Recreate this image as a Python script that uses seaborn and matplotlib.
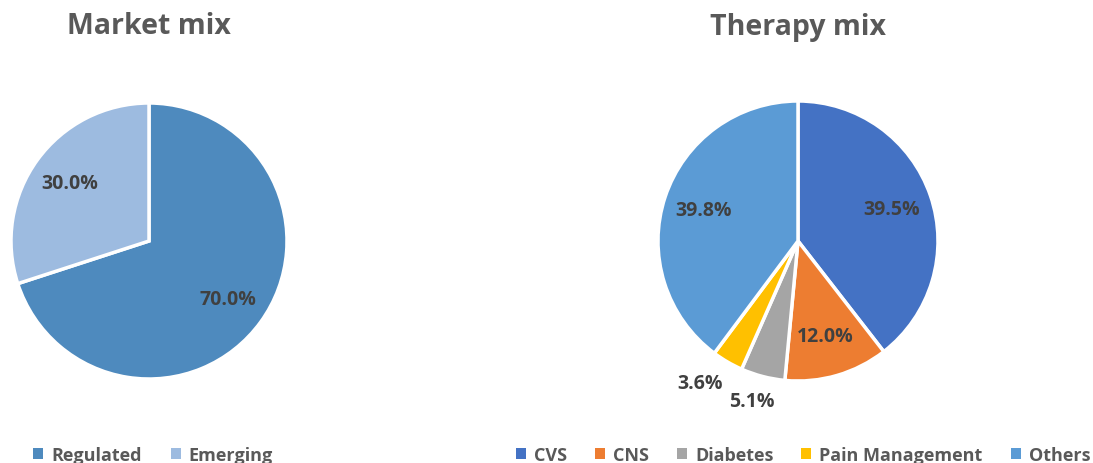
import matplotlib
matplotlib.use("Agg")
import matplotlib.pyplot as plt
import seaborn as sns
from matplotlib.patches import Patch
import numpy as np

market_labels = ["Regulated", "Emerging"]
market_values = [70.0, 30.0]
market_colors = ["#4E8ABE", "#9DBBE0"]

therapy_labels = ["CVS", "CNS", "Diabetes", "Pain Management", "Others"]
therapy_values = [39.5, 12.0, 5.1, 3.6, 39.8]
therapy_colors = ["#4472C4", "#ED7D31", "#A5A5A5", "#FFC000", "#5B9BD5"]

sns.set_theme(style="white")
plt.rcParams['font.family'] = ['Open Sans', 'DejaVu Sans']

W, H = 1093, 464
fig = plt.figure(figsize=(W / 100, H / 100), dpi=100)
fig.patch.set_facecolor("white")

def add_ax(cx, cy, r):
    ax = fig.add_axes([(cx - r) / W, (H - cy - r) / H, 2 * r / W, 2 * r / H])
    ax.axis("off")
    return ax

def fix_ax(ax):
    ax.set_xlim(-1, 1)
    ax.set_ylim(-1, 1)
    ax.set_aspect("equal", adjustable="box")

label_color = "#404040"
title_color = "#595959"

ax1 = add_ax(149, 242, 138)
w1, t1, a1 = ax1.pie(market_values, colors=market_colors, startangle=90, counterclock=False,
                     autopct="%.1f%%", pctdistance=0.71, radius=1,
                     wedgeprops=dict(edgecolor="white", linewidth=2.5),
                     textprops=dict(fontsize=14, fontweight="bold", color=label_color))
fix_ax(ax1)

ax2 = add_ax(798, 242, 140)
w2, t2, a2 = ax2.pie(therapy_values, colors=therapy_colors, startangle=90, counterclock=False,
                     autopct="%.1f%%", pctdistance=0.71, radius=1,
                     wedgeprops=dict(edgecolor="white", linewidth=2.5),
                     textprops=dict(fontsize=14, fontweight="bold", color=label_color))
fix_ax(ax2)
# move small-slice labels outside
for i, dist, dang in [(2, 1.19, -1.5), (3, 1.23, -4.5)]:
    wd = w2[i]
    ang = np.deg2rad((wd.theta1 + wd.theta2) / 2 + dang)
    a2[i].set_position((dist * np.cos(ang), dist * np.sin(ang)))

fig.text(149 / W, 1 - 27 / H, "Market mix", ha="center", va="center",
         fontsize=20.5, fontweight="bold", color=title_color)
fig.text(798 / W, 1 - 27 / H, "Therapy mix", ha="center", va="center",
         fontsize=20.5, fontweight="bold", color=title_color)

leg_kw = dict(frameon=False, handlelength=0.55, handleheight=0.55, handletextpad=0.45,
              prop=dict(size=13, weight="bold"), labelcolor=title_color,
              loc="center")
h1 = [Patch(facecolor=c, edgecolor="none") for c in market_colors]
fig.legend(h1, market_labels, ncol=2, columnspacing=1.6,
           bbox_to_anchor=(153 / W, 1 - 456 / H), **leg_kw)
h2 = [Patch(facecolor=c, edgecolor="none") for c in therapy_colors]
fig.legend(h2, therapy_labels, ncol=5, columnspacing=1.55,
           bbox_to_anchor=(803 / W, 1 - 456 / H), **leg_kw)

fig.savefig("out.png", dpi=100, facecolor="white")
